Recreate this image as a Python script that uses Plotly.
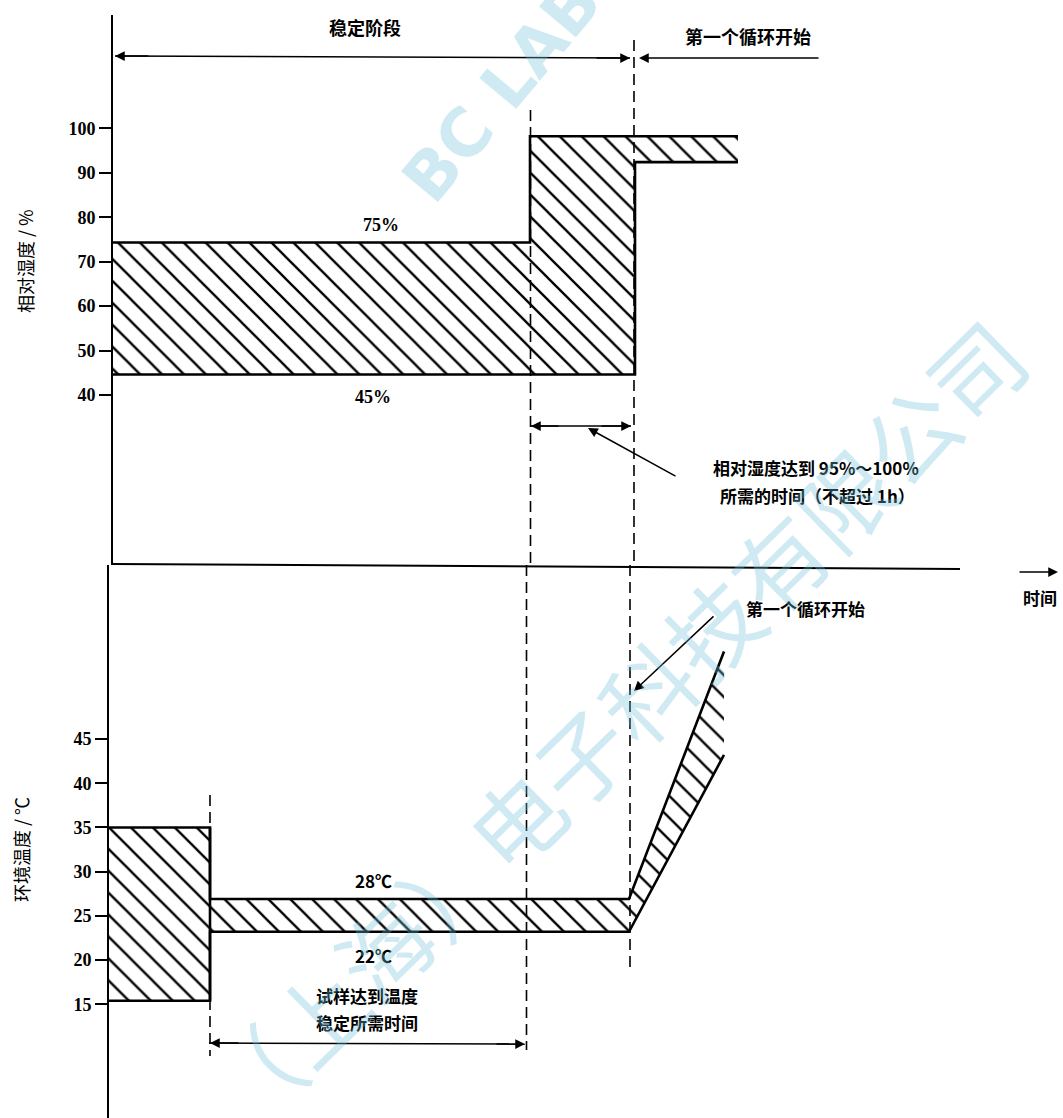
import plotly.graph_objects as go

W, H = 1063, 1118

# ---------------- data ----------------
hum_ticks = [40, 50, 60, 70, 80, 90, 100]
temp_ticks = [15, 20, 25, 30, 35, 40, 45]

# relative humidity band (top panel), time in arbitrary units
hum_time = [0, 41.8, 41.8, 52.3, 52.3, 62.6]
hum_upper = [74.3, 74.3, 98.2, 98.2, 98.2, 98.2]
hum_lower = [44.6, 44.6, 44.6, 44.6, 92.4, 92.4]

# ambient temperature band (bottom panel)
temp_time = [0, 10.2, 10.2, 52.1, 61.6]
temp_upper = [35.0, 35.0, 26.9, 26.9, 54.9]
temp_lower = [15.4, 15.4, 23.2, 23.2, 43.2]

# event times
stable_end = 41.85
cycle_start = 52.2
sample_stable = 10.2

CJK = "Noto Sans CJK SC"
SERIF = "Liberation Serif"


def px(x):
    return x / W


def py(y):
    return 1 - y / H


fig = go.Figure()

hatch = dict(shape="\\", size=15.5, solidity=0.15, fgcolor="black", bgcolor="white",
             fgopacity=1)

# humidity band
fig.add_trace(go.Scatter(
    x=hum_time + hum_time[::-1], y=hum_upper + hum_lower[::-1],
    fill="toself", fillcolor="white", fillpattern=hatch,
    mode="none", xaxis="x", yaxis="y", hoverinfo="skip"))
fig.add_trace(go.Scatter(x=hum_time, y=hum_upper, mode="lines",
                         line=dict(color="black", width=2.6), xaxis="x", yaxis="y"))
fig.add_trace(go.Scatter(x=hum_time, y=hum_lower, mode="lines",
                         line=dict(color="black", width=2.6), xaxis="x", yaxis="y"))

# temperature band
fig.add_trace(go.Scatter(
    x=temp_time + temp_time[::-1], y=temp_upper + temp_lower[::-1],
    fill="toself", fillcolor="white", fillpattern=hatch,
    mode="none", xaxis="x2", yaxis="y2", hoverinfo="skip"))
fig.add_trace(go.Scatter(x=temp_time, y=temp_upper, mode="lines",
                         line=dict(color="black", width=2.6), xaxis="x2", yaxis="y2"))
fig.add_trace(go.Scatter(x=temp_time, y=temp_lower, mode="lines",
                         line=dict(color="black", width=2.6), xaxis="x2", yaxis="y2"))
fig.add_trace(go.Scatter(x=[temp_time[1], temp_time[1]], y=[temp_upper[1], temp_lower[1]],
                         mode="lines", line=dict(color="black", width=2.6),
                         xaxis="x2", yaxis="y2"))

shapes = []
dash = dict(color="black", width=1.6, dash="11px,6px")
# dashed event lines
shapes.append(dict(type="line", xref="x", yref="paper", x0=stable_end, x1=stable_end,
                   y0=py(110), y1=py(565), line=dash))
shapes.append(dict(type="line", xref="x2", yref="paper", x0=stable_end, x1=stable_end,
                   y0=py(565), y1=py(1050), line=dash))
shapes.append(dict(type="line", xref="x", yref="paper", x0=cycle_start, x1=cycle_start,
                   y0=py(40), y1=py(565), line=dash))
shapes.append(dict(type="line", xref="x2", yref="paper", x0=cycle_start, x1=cycle_start,
                   y0=py(565), y1=py(972), line=dash))
shapes.append(dict(type="line", xref="x2", yref="paper", x0=sample_stable, x1=sample_stable,
                   y0=py(795), y1=py(1056), line=dash))
# divider / time axis
shapes.append(dict(type="line", xref="paper", yref="paper", x0=px(112), x1=px(960),
                   y0=py(564), y1=py(569), line=dict(color="black", width=2)))
# dimension lines
solid = dict(color="black", width=1.5)
shapes.append(dict(type="line", xref="paper", yref="paper", x0=px(115), x1=px(630),
                   y0=py(56), y1=py(58), line=solid))
shapes.append(dict(type="line", xref="paper", yref="paper", x0=px(531), x1=px(631),
                   y0=py(426), y1=py(426), line=solid))
shapes.append(dict(type="line", xref="paper", yref="paper", x0=px(209), x1=px(525),
                   y0=py(1043), y1=py(1044), line=solid))

annotations = []


def arrow(hx, hy, tx, ty, w=1.5):
    annotations.append(dict(
        xref="paper", yref="paper", x=px(hx), y=py(hy), ax=tx - hx, ay=ty - hy,
        axref="pixel", ayref="pixel", text="", showarrow=True,
        arrowhead=2, arrowsize=1.3, arrowwidth=w, arrowcolor="black", standoff=0))


def text(x, y, s, size=18, family=CJK, weight="bold", color="black", angle=0):
    annotations.append(dict(
        xref="paper", yref="paper", x=px(x), y=py(y), text=s, showarrow=False,
        xanchor="center", yanchor="middle", textangle=angle,
        font=dict(family=family, size=size, color=color, weight=weight)))


# arrows
arrow(115, 56, 150, 56)
arrow(630, 58, 595, 58)
arrow(639, 58, 820, 58)
arrow(531, 426, 560, 426)
arrow(631, 426, 600, 426)
arrow(588, 428, 677, 477)
arrow(210, 1043, 240, 1043)
arrow(525, 1044, 495, 1044)
arrow(634, 691, 715, 615)
arrow(1058, 572, 1018, 572)

# texts
text(365, 27, "稳定阶段")
text(748, 36, "第一个循环开始")
text(381, 225, "75%", size=18, family=SERIF)
text(373, 397, "45%", size=18, family=SERIF)
text(816, 467, "相对湿度达到 95%～100%", size=17)
text(817, 495, "所需的时间（不超过 1h）", size=17)
text(805, 608, "第一个循环开始", size=17)
text(1040, 597, "时间", size=17)
text(373, 880, "28℃", size=17)
text(373, 955, "22℃", size=17)
text(367, 995, "试样达到温度", size=17)
text(367, 1022, "稳定所需时间", size=17)
text(25, 261, "相对湿度 / %", size=18, weight="normal", angle=-90)
text(21, 850, "环境温度 / ℃", size=18, weight="normal", angle=-90)

# watermark
wm = "rgba(110,190,215,0.33)"
text(612, 722, "（上海）电子科技有限公司", size=92, weight="normal", color=wm, angle=-44.4)
text(520, 70, "BC LABO", size=66, family="DejaVu Sans", weight="bold", color=wm, angle=-50)

axis_common = dict(
    ticks="outside", ticklen=12, tickwidth=2, tickcolor="black",
    showline=True, linewidth=2, linecolor="black",
    showgrid=False, zeroline=False, anchor="free",
    tickfont=dict(family=SERIF, size=18, color="black", weight="bold"),
)

fig.update_layout(
    width=W, height=H,
    margin=dict(l=0, r=0, t=0, b=0),
    paper_bgcolor="white", plot_bgcolor="rgba(0,0,0,0)",
    showlegend=False,
    xaxis=dict(domain=[0, 1], range=[-11.2, 95.1], visible=False, anchor="y"),
    xaxis2=dict(domain=[0, 1], range=[-10.8, 95.5], visible=False, anchor="y2"),
    yaxis=dict(domain=[1 - 565 / H, 1 - 15 / H], range=[1.755, 125.49],
               position=112 / W, tickvals=hum_ticks, **axis_common),
    yaxis2=dict(domain=[0, 1 - 565 / H], range=[2.14, 64.68],
                position=108 / W, tickvals=temp_ticks, **axis_common),
    shapes=shapes,
    annotations=annotations,
)

fig.write_html("out.html", config={"displayModeBar": False},
               post_script="document.body.style.margin='0';")
